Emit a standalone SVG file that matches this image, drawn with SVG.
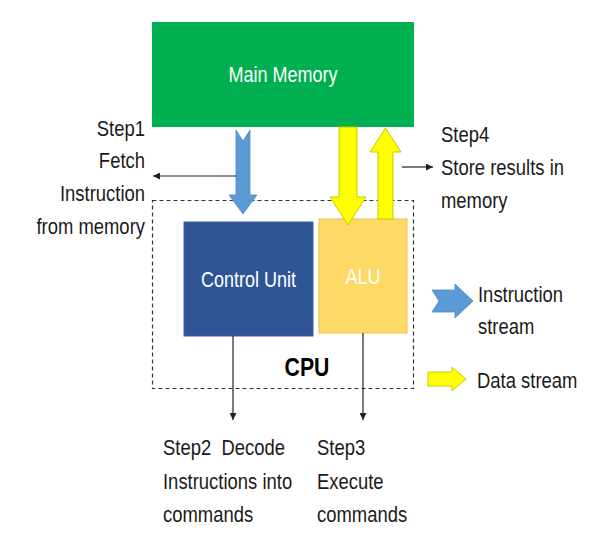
<svg xmlns="http://www.w3.org/2000/svg" width="592" height="542" viewBox="0 0 592 542">
<style>
.t{font-family:"Liberation Sans",Arial,sans-serif;font-size:22.5px;fill:#1a1a1a}
.w{font-family:"Liberation Sans",Arial,sans-serif;font-size:22px;fill:#ffffff}
.b{font-family:"Liberation Sans",Arial,sans-serif;font-size:25px;font-weight:bold;fill:#000}
.ln{stroke:#222;stroke-width:1.2;fill:none}
.yel{fill:#FFFF00;stroke:#C8C800;stroke-width:1}
.blu{fill:#5B9BD5;stroke:#4A8AC4;stroke-width:0.8}
</style>
<defs>
<marker id="ah" viewBox="0 0 10 10" refX="10" refY="5" markerWidth="7" markerHeight="7" orient="auto" markerUnits="userSpaceOnUse">
<path d="M0,0 L10,5 L0,10 Z" fill="#222"/>
</marker>
</defs>
<rect width="592" height="542" fill="#ffffff"/>
<g id="cpu-box">
<rect x="152.5" y="200.5" width="261" height="188" fill="none" stroke="#333" stroke-width="1.2" stroke-dasharray="4,3"/>
<text class="b" transform="translate(307,376) scale(0.85,1)" text-anchor="middle">CPU</text>
</g>
<g id="main-memory">
<rect x="152" y="22" width="262" height="105" fill="#00B050"/>
<text class="w" transform="translate(283,82) scale(0.82,1)" text-anchor="middle">Main Memory</text>
</g>
<g id="control-unit">
<rect x="184" y="222" width="129" height="114" fill="#2F5597" stroke="#3A63A8" stroke-width="1"/>
<text class="w" transform="translate(248.5,287) scale(0.82,1)" text-anchor="middle">Control Unit</text>
</g>
<g id="alu">
<rect x="319" y="219" width="88" height="114" fill="#FFD966" stroke="#E8C050" stroke-width="1"/>
<text class="w" transform="translate(363,284) scale(0.82,1)" text-anchor="middle">ALU</text>
</g>
<g id="connectors">
<path class="blu" d="M236,130 L243,141 L250,130 L250,195 L257,195 L243,214 L229,195 L236,195 Z"/>
<path class="yel" d="M339,127 L357,127 L357,197 L366,197 L348,225 L330,197 L339,197 Z"/>
<path class="yel" d="M378,219 L393,219 L393,152 L401,152 L385.5,128 L370,152 L378,152 Z"/>
<line class="ln" x1="236" y1="176" x2="153" y2="176" marker-end="url(#ah)"/>
<line class="ln" x1="402" y1="167" x2="433" y2="167" marker-end="url(#ah)"/>
<line class="ln" x1="233" y1="336" x2="233" y2="420" marker-end="url(#ah)"/>
<line class="ln" x1="363" y1="333" x2="363" y2="420" marker-end="url(#ah)"/>
</g>
<g id="step1">
<text class="t" transform="translate(145,136) scale(0.82,1)" text-anchor="end">Step1</text>
<text class="t" transform="translate(145,168) scale(0.82,1)" text-anchor="end">Fetch</text>
<text class="t" transform="translate(145,201) scale(0.82,1)" text-anchor="end">Instruction</text>
<text class="t" transform="translate(145,234) scale(0.82,1)" text-anchor="end">from memory</text>
</g>
<g id="step4">
<text class="t" transform="translate(441,142) scale(0.82,1)">Step4</text>
<text class="t" transform="translate(441,175) scale(0.82,1)">Store results in</text>
<text class="t" transform="translate(441,208) scale(0.82,1)">memory</text>
</g>
<g id="step2">
<text class="t" transform="translate(163,455) scale(0.82,1)" xml:space="preserve">Step2  Decode</text>
<text class="t" transform="translate(163,489) scale(0.82,1)">Instructions into</text>
<text class="t" transform="translate(163,522) scale(0.82,1)">commands</text>
</g>
<g id="step3">
<text class="t" transform="translate(317,455) scale(0.82,1)">Step3</text>
<text class="t" transform="translate(317,489) scale(0.82,1)">Execute</text>
<text class="t" transform="translate(317,522) scale(0.82,1)">commands</text>
</g>
<g id="legend">
<path class="blu" d="M432,290 L455,290 L455,284 L473,301 L455,318 L455,312 L432,312 L439,301 Z"/>
<text class="t" transform="translate(478,302) scale(0.82,1)">Instruction</text>
<text class="t" transform="translate(478,334) scale(0.82,1)">stream</text>
<path class="yel" d="M428,372 L452,372 L452,367 L466,379 L452,391 L452,386 L428,386 Z"/>
<text class="t" transform="translate(477,388) scale(0.82,1)">Data stream</text>
</g>
</svg>
